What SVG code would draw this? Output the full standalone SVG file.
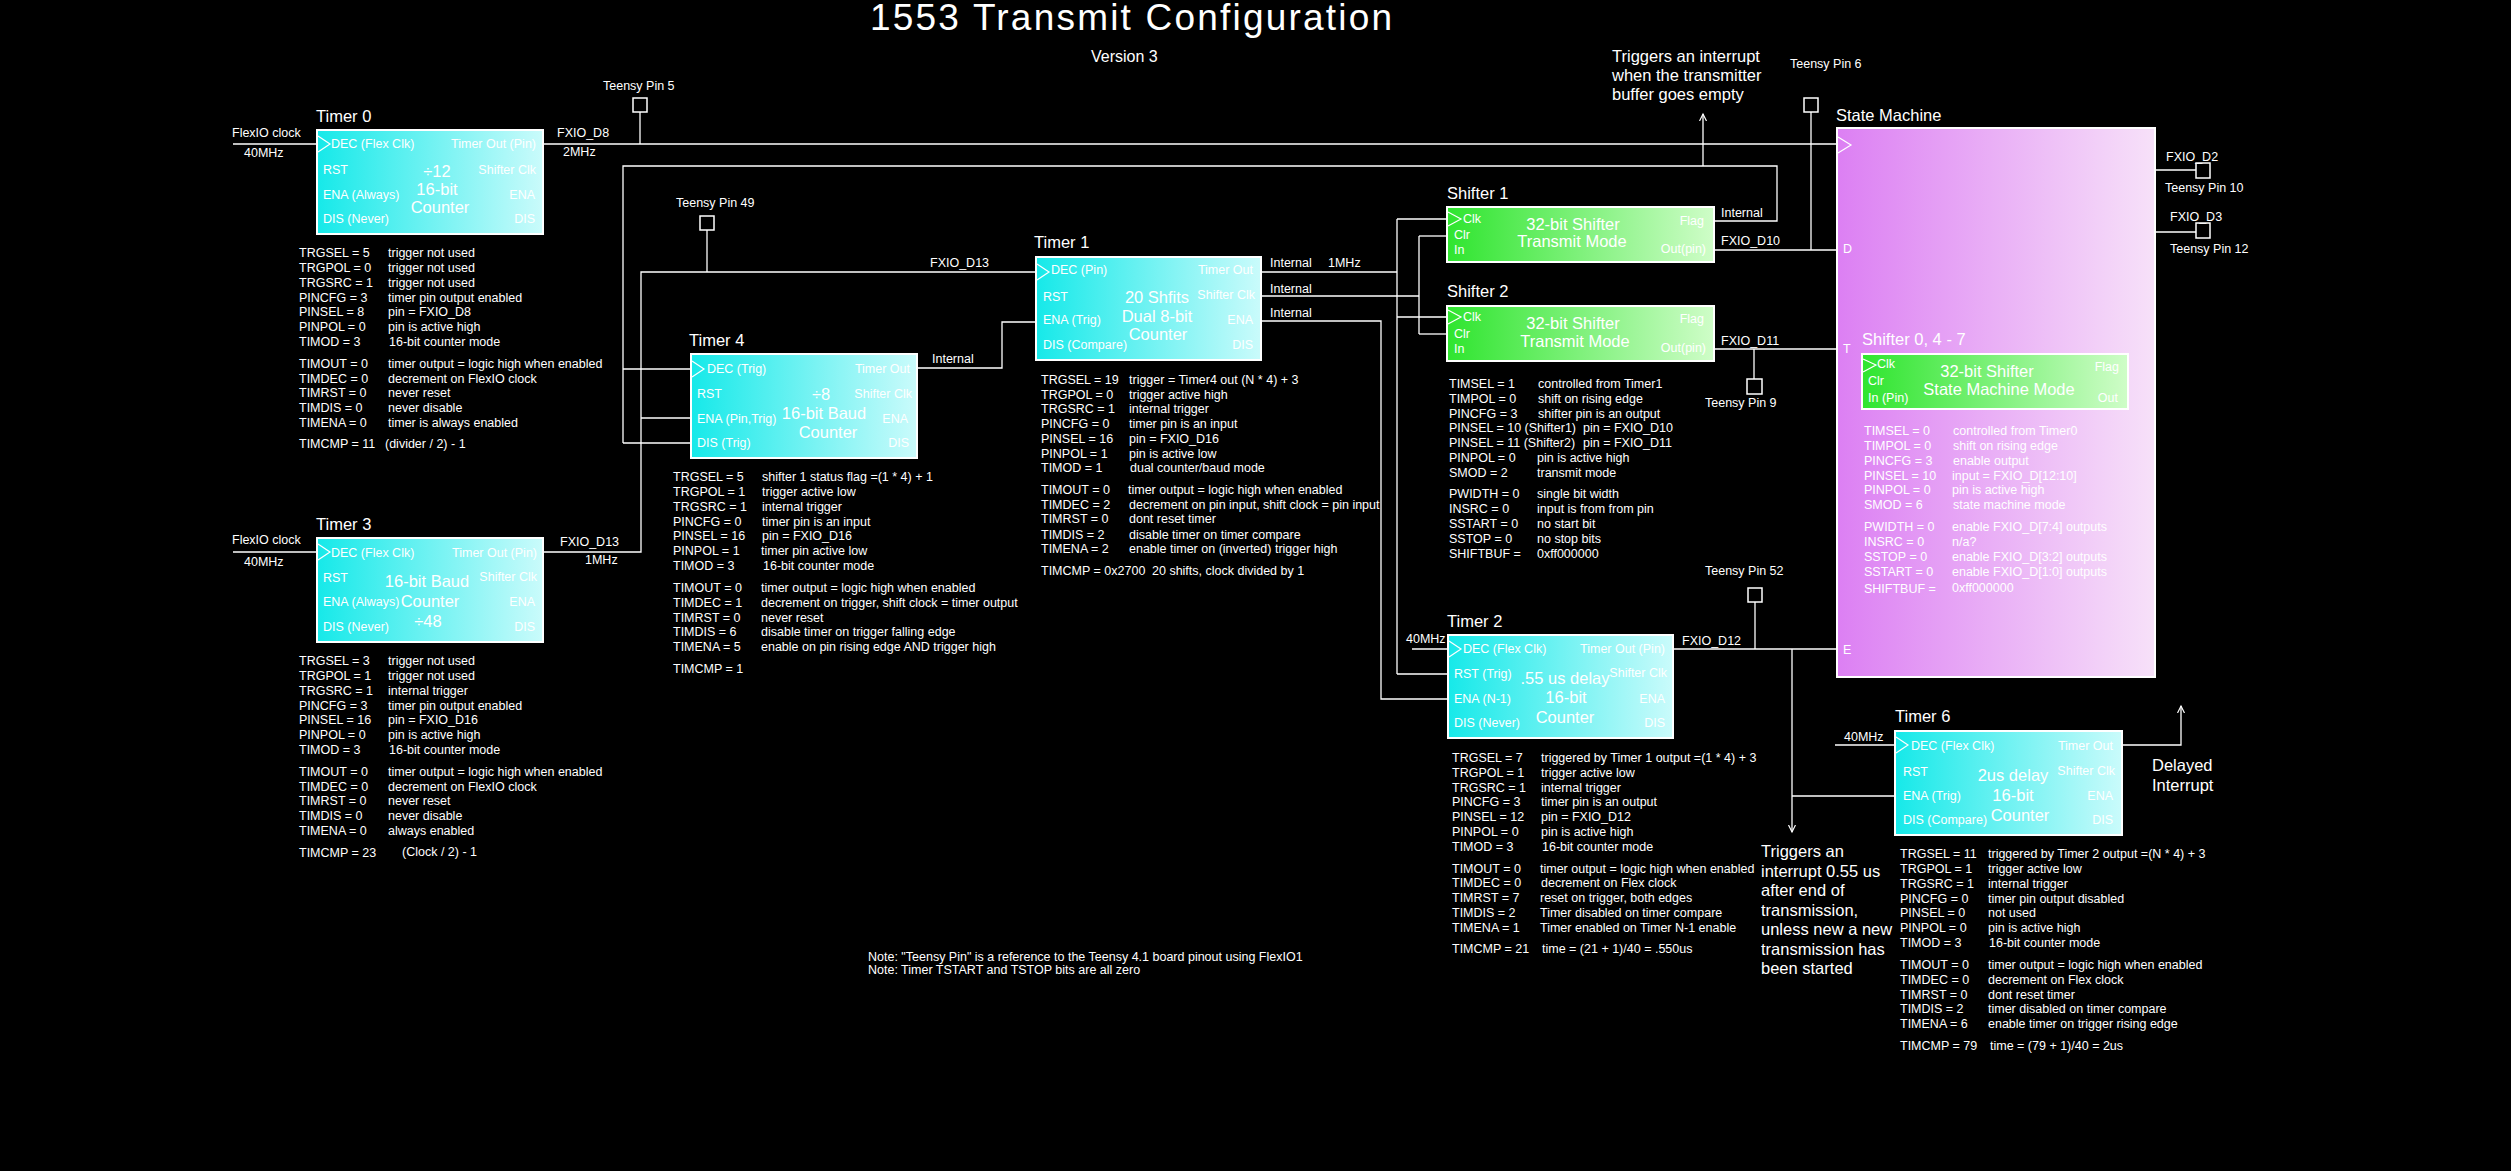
<svg xmlns="http://www.w3.org/2000/svg" width="2511" height="1171" viewBox="0 0 2511 1171">
<defs>
<linearGradient id="cy" x1="0" y1="0" x2="1" y2="0"><stop offset="0" stop-color="#16e9e9"/><stop offset="1" stop-color="#cafbfb"/></linearGradient>
<linearGradient id="gr" x1="0" y1="0" x2="1" y2="0"><stop offset="0" stop-color="#2fe52f"/><stop offset="1" stop-color="#cffdc8"/></linearGradient>
<linearGradient id="pk" x1="0" y1="0" x2="1" y2="0"><stop offset="0" stop-color="#dc7ff3"/><stop offset="1" stop-color="#f7e1f9"/></linearGradient>
<marker id="ah" markerWidth="9" markerHeight="9" refX="7" refY="4" orient="auto" markerUnits="userSpaceOnUse"><path d="M0,0.5 L7,4 L0,7.5" fill="none" stroke="#fff" stroke-width="1.2"/></marker>
<style>
text{font-family:"Liberation Sans",Arial,sans-serif;fill:#fff;font-size:12.5px}
.t{font-size:16.5px}
.c{font-size:16.5px;text-anchor:middle}
.r{text-anchor:end}
.w{stroke:#fff;stroke-width:1.3;fill:none}
.tb{fill:url(#cy);stroke:#fff;stroke-width:2}
.sb{fill:url(#gr);stroke:#fff;stroke-width:2}
.pb{fill:url(#pk);stroke:#fff;stroke-width:2}
.pin{fill:none;stroke:#fff;stroke-width:1.5}
.tri{fill:none;stroke:#fff;stroke-width:1.2}
</style>
</defs>
<rect x="0" y="0" width="2511" height="1171" fill="#000"/>

<text x="870" y="30" style="font-size:37px;letter-spacing:2.2px">1553 Transmit Configuration</text>
<text x="1091" y="62" style="font-size:16px">Version 3</text>
<text class="t" x="1612" y="62">Triggers an interrupt</text>
<text class="t" x="1612" y="81">when the transmitter</text>
<text class="t" x="1612" y="100">buffer goes empty</text>

<!-- connectors -->
<g id="connectors" class="w">
<path d="M233,144 H317"/>
<path d="M543,144 H1838"/>
<path d="M640,112 V144"/>
<path d="M233,552 H317"/>
<path d="M1714,221 H1777 V166 H623 V443"/>
<path d="M623,369 H691"/>
<path d="M623,443 H691"/>
<path d="M1703,166 V114" marker-end="url(#ah)"/>
<path d="M543,552 H641 V272 H1036"/>
<path d="M641,418 H691"/>
<path d="M707,230 V272"/>
<path d="M917,368 H1002 V322 H1036"/>
<path d="M1261,272 H1397"/>
<path d="M1397,219 V674"/>
<path d="M1397,219 H1447"/>
<path d="M1397,317 H1447"/>
<path d="M1397,674 H1448"/>
<path d="M1261,296 H1419"/>
<path d="M1419,236 V334"/>
<path d="M1419,236 H1447"/>
<path d="M1419,334 H1447"/>
<path d="M1261,321 H1381 V699 H1448"/>
<path d="M1714,250 H1838"/>
<path d="M1811,112 V250"/>
<path d="M1714,349 H1838"/>
<path d="M1754,349 V379"/>
<path d="M1412,649 H1448"/>
<path d="M1673,649 H1838"/>
<path d="M1755,602 V649"/>
<path d="M1792,649 V832" marker-end="url(#ah)"/>
<path d="M1792,796 H1895"/>
<path d="M1835,745 H1895"/>
<path d="M2122,745 H2181 V706" marker-end="url(#ah)"/>
<path d="M2155,170 H2196"/>
<path d="M2155,232 H2196"/>
</g>

<!-- pins -->
<g id="pin5"><rect class="pin" x="633" y="98" width="14" height="14"/><text x="603" y="90">Teensy Pin 5</text></g>
<g id="pin49"><rect class="pin" x="700" y="216" width="14" height="14"/><text x="676" y="207">Teensy Pin 49</text></g>
<g id="pin6"><rect class="pin" x="1804" y="98" width="14" height="14"/><text x="1790" y="68">Teensy Pin 6</text></g>
<g id="pin9"><rect class="pin" x="1747" y="379" width="15" height="15"/><text x="1705" y="407">Teensy Pin 9</text></g>
<g id="pin52"><rect class="pin" x="1748" y="588" width="14" height="14"/><text x="1705" y="575">Teensy Pin 52</text></g>
<g id="pin10"><rect class="pin" x="2196" y="163" width="14" height="15"/><text x="2166" y="161">FXIO_D2</text><text x="2165" y="192">Teensy Pin 10</text></g>
<g id="pin12"><rect class="pin" x="2196" y="223" width="14" height="15"/><text x="2170" y="221">FXIO_D3</text><text x="2170" y="253">Teensy Pin 12</text></g>

<!-- connector labels -->
<g id="labels">
<text x="232" y="137">FlexIO clock</text>
<text x="244" y="157">40MHz</text>
<text x="557" y="137">FXIO_D8</text>
<text x="563" y="156">2MHz</text>
<text x="232" y="544">FlexIO clock</text>
<text x="244" y="566">40MHz</text>
<text x="560" y="546">FXIO_D13</text>
<text x="585" y="564">1MHz</text>
<text x="930" y="267">FXIO_D13</text>
<text x="932" y="363">Internal</text>
<text x="1270" y="267">Internal</text>
<text x="1328" y="267">1MHz</text>
<text x="1270" y="293">Internal</text>
<text x="1270" y="317">Internal</text>
<text x="1721" y="217">Internal</text>
<text x="1721" y="245">FXIO_D10</text>
<text x="1721" y="345">FXIO_D11</text>
<text x="1406" y="643">40MHz</text>
<text x="1682" y="645">FXIO_D12</text>
<text x="1844" y="741">40MHz</text>
<text class="t" x="2152" y="771">Delayed</text>
<text class="t" x="2152" y="791">Interrupt</text>
<text class="t" x="1761" y="857">Triggers an</text>
<text class="t" x="1761" y="877">interrupt 0.55 us</text>
<text class="t" x="1761" y="896">after end of</text>
<text class="t" x="1761" y="916">transmission,</text>
<text class="t" x="1761" y="935">unless new a new</text>
<text class="t" x="1761" y="955">transmission has</text>
<text class="t" x="1761" y="974">been started</text>
<text x="868" y="961">Note: "Teensy Pin" is a reference to the Teensy 4.1 board pinout using FlexIO1</text>
<text x="868" y="974">Note: Timer TSTART and TSTOP bits are all zero</text>
</g>

<!-- Timer 0 -->
<g id="timer0">
<text class="t" x="316" y="122">Timer 0</text>
<rect class="tb" x="317" y="130" width="226" height="104"/>
<polyline class="tri" points="318,136 330,144 318,152"/>
<text x="331" y="148">DEC (Flex Clk)</text><text x="323" y="174">RST</text><text x="323" y="199">ENA (Always)</text><text x="323" y="223">DIS (Never)</text>
<text class="r" x="536" y="148">Timer Out (Pin)</text><text class="r" x="536" y="174">Shifter Clk</text><text class="r" x="535" y="199">ENA</text><text class="r" x="535" y="223">DIS</text>
<text class="c" x="437" y="177">÷12</text><text class="c" x="437" y="195">16-bit</text><text class="c" x="440" y="213">Counter</text>
<g transform="translate(299,257)">
<text><tspan x="0" y="0">TRGSEL = 5</tspan><tspan x="0" y="15">TRGPOL = 0</tspan><tspan x="0" y="30">TRGSRC = 1</tspan><tspan x="0" y="45">PINCFG = 3</tspan><tspan x="0" y="59">PINSEL = 8</tspan><tspan x="0" y="74">PINPOL = 0</tspan><tspan x="0" y="89">TIMOD = 3</tspan><tspan x="0" y="111">TIMOUT = 0</tspan><tspan x="0" y="126">TIMDEC = 0</tspan><tspan x="0" y="140">TIMRST = 0</tspan><tspan x="0" y="155">TIMDIS = 0</tspan><tspan x="0" y="170">TIMENA = 0</tspan><tspan x="0" y="191">TIMCMP = 11</tspan></text>
<text><tspan x="89" y="0">trigger not used</tspan><tspan x="89" y="15">trigger not used</tspan><tspan x="89" y="30">trigger not used</tspan><tspan x="89" y="45">timer pin output enabled</tspan><tspan x="89" y="59">pin = FXIO_D8</tspan><tspan x="89" y="74">pin is active high</tspan><tspan x="90" y="89">16-bit counter mode</tspan><tspan x="89" y="111">timer output = logic high when enabled</tspan><tspan x="89" y="126">decrement on FlexIO clock</tspan><tspan x="89" y="140">never reset</tspan><tspan x="89" y="155">never disable</tspan><tspan x="89" y="170">timer is always enabled</tspan><tspan x="86" y="191">(divider / 2) - 1</tspan></text>
</g>
</g>

<!-- Timer 3 -->
<g id="timer3">
<text class="t" x="316" y="530">Timer 3</text>
<rect class="tb" x="317" y="538" width="226" height="104"/>
<polyline class="tri" points="318,544 330,552 318,560"/>
<text x="331" y="557">DEC (Flex Clk)</text><text x="323" y="582">RST</text><text x="323" y="606">ENA (Always)</text><text x="323" y="631">DIS (Never)</text>
<text class="r" x="537" y="557">Timer Out (Pin)</text><text class="r" x="537" y="581">Shifter Clk</text><text class="r" x="535" y="606">ENA</text><text class="r" x="535" y="631">DIS</text>
<text class="c" x="427" y="587">16-bit Baud</text><text class="c" x="430" y="607">Counter</text><text class="c" x="428" y="627">÷48</text>
<g transform="translate(299,665)">
<text><tspan x="0" y="0">TRGSEL = 3</tspan><tspan x="0" y="15">TRGPOL = 1</tspan><tspan x="0" y="30">TRGSRC = 1</tspan><tspan x="0" y="45">PINCFG = 3</tspan><tspan x="0" y="59">PINSEL = 16</tspan><tspan x="0" y="74">PINPOL = 0</tspan><tspan x="0" y="89">TIMOD = 3</tspan><tspan x="0" y="111">TIMOUT = 0</tspan><tspan x="0" y="126">TIMDEC = 0</tspan><tspan x="0" y="140">TIMRST = 0</tspan><tspan x="0" y="155">TIMDIS = 0</tspan><tspan x="0" y="170">TIMENA = 0</tspan><tspan x="0" y="192">TIMCMP = 23</tspan></text>
<text><tspan x="89" y="0">trigger not used</tspan><tspan x="89" y="15">trigger not used</tspan><tspan x="89" y="30">internal trigger</tspan><tspan x="89" y="45">timer pin output enabled</tspan><tspan x="89" y="59">pin = FXIO_D16</tspan><tspan x="89" y="74">pin is active high</tspan><tspan x="90" y="89">16-bit counter mode</tspan><tspan x="89" y="111">timer output = logic high when enabled</tspan><tspan x="89" y="126">decrement on FlexIO clock</tspan><tspan x="89" y="140">never reset</tspan><tspan x="89" y="155">never disable</tspan><tspan x="89" y="170">always enabled</tspan><tspan x="103" y="191">(Clock / 2) - 1</tspan></text>
</g>
</g>

<!-- Timer 4 -->
<g id="timer4">
<text class="t" x="689" y="346">Timer 4</text>
<rect class="tb" x="691" y="354" width="226" height="104"/>
<polyline class="tri" points="692,361 704,369 692,377"/>
<text x="707" y="373">DEC (Trig)</text><text x="697" y="398">RST</text><text x="697" y="423">ENA (Pin,Trig)</text><text x="697" y="447">DIS (Trig)</text>
<text class="r" x="910" y="373">Timer Out</text><text class="r" x="912" y="398">Shifter Clk</text><text class="r" x="908" y="423">ENA</text><text class="r" x="909" y="447">DIS</text>
<text class="c" x="821" y="400">÷8</text><text class="c" x="824" y="419">16-bit Baud</text><text class="c" x="828" y="438">Counter</text>
<g transform="translate(673,481)">
<text><tspan x="0" y="0">TRGSEL = 5</tspan><tspan x="0" y="15">TRGPOL = 1</tspan><tspan x="0" y="30">TRGSRC = 1</tspan><tspan x="0" y="45">PINCFG = 0</tspan><tspan x="0" y="59">PINSEL = 16</tspan><tspan x="0" y="74">PINPOL = 1</tspan><tspan x="0" y="89">TIMOD = 3</tspan><tspan x="0" y="111">TIMOUT = 0</tspan><tspan x="0" y="126">TIMDEC = 1</tspan><tspan x="0" y="141">TIMRST = 0</tspan><tspan x="0" y="155">TIMDIS = 6</tspan><tspan x="0" y="170">TIMENA = 5</tspan><tspan x="0" y="192">TIMCMP = 1</tspan></text>
<text><tspan x="89" y="0">shifter 1 status flag =(1 * 4) + 1</tspan><tspan x="89" y="15">trigger active low</tspan><tspan x="89" y="30">internal trigger</tspan><tspan x="89" y="45">timer pin is an input</tspan><tspan x="89" y="59">pin = FXIO_D16</tspan><tspan x="88" y="74">timer pin active low</tspan><tspan x="90" y="89">16-bit counter mode</tspan><tspan x="88" y="111">timer output = logic high when enabled</tspan><tspan x="88" y="126">decrement on trigger, shift clock = timer output</tspan><tspan x="88" y="141">never reset</tspan><tspan x="88" y="155">disable timer on trigger falling edge</tspan><tspan x="88" y="170">enable on pin rising edge AND trigger high</tspan></text>
</g>
</g>

<!-- Timer 1 -->
<g id="timer1">
<text class="t" x="1034" y="248">Timer 1</text>
<rect class="tb" x="1036" y="257" width="225" height="103"/>
<polyline class="tri" points="1037,264 1049,272 1037,280"/>
<text x="1051" y="274">DEC (Pin)</text><text x="1043" y="301">RST</text><text x="1043" y="324">ENA (Trig)</text><text x="1043" y="349">DIS (Compare)</text>
<text class="r" x="1253" y="274">Timer Out</text><text class="r" x="1255" y="299">Shifter Clk</text><text class="r" x="1253" y="324">ENA</text><text class="r" x="1253" y="349">DIS</text>
<text class="c" x="1157" y="303">20 Shfits</text><text class="c" x="1157" y="322">Dual 8-bit</text><text class="c" x="1158" y="340">Counter</text>
<g transform="translate(1041,384)">
<text><tspan x="0" y="0">TRGSEL = 19</tspan><tspan x="0" y="15">TRGPOL = 0</tspan><tspan x="0" y="29">TRGSRC = 1</tspan><tspan x="0" y="44">PINCFG = 0</tspan><tspan x="0" y="59">PINSEL = 16</tspan><tspan x="0" y="74">PINPOL = 1</tspan><tspan x="0" y="88">TIMOD = 1</tspan><tspan x="0" y="110">TIMOUT = 0</tspan><tspan x="0" y="125">TIMDEC = 2</tspan><tspan x="0" y="139">TIMRST = 0</tspan><tspan x="0" y="155">TIMDIS = 2</tspan><tspan x="0" y="169">TIMENA = 2</tspan><tspan x="0" y="191">TIMCMP = 0x2700</tspan></text>
<text><tspan x="88" y="0">trigger = Timer4 out (N * 4) + 3</tspan><tspan x="88" y="15">trigger active high</tspan><tspan x="88" y="29">internal trigger</tspan><tspan x="88" y="44">timer pin is an input</tspan><tspan x="88" y="59">pin = FXIO_D16</tspan><tspan x="88" y="74">pin is active low</tspan><tspan x="89" y="88">dual counter/baud mode</tspan><tspan x="87" y="110">timer output = logic high when enabled</tspan><tspan x="88" y="125">decrement on pin input, shift clock = pin input</tspan><tspan x="88" y="139">dont reset timer</tspan><tspan x="88" y="155">disable timer on timer compare</tspan><tspan x="88" y="169">enable timer on (inverted) trigger high</tspan><tspan x="111" y="191">20 shifts, clock divided by 1</tspan></text>
</g>
</g>

<!-- Shifter 1 -->
<g id="shifter1">
<text class="t" x="1447" y="199">Shifter 1</text>
<rect class="sb" x="1447" y="207" width="267" height="55"/>
<polyline class="tri" points="1448,212 1461,219 1448,226"/>
<text x="1463" y="223">Clk</text><text x="1454" y="239">Clr</text><text x="1454" y="254">In</text>
<text class="c" x="1573" y="230">32-bit Shifter</text><text class="c" x="1572" y="247">Transmit Mode</text>
<text class="r" x="1704" y="225">Flag</text><text class="r" x="1706" y="253">Out(pin)</text>
</g>

<!-- Shifter 2 -->
<g id="shifter2">
<text class="t" x="1447" y="297">Shifter 2</text>
<rect class="sb" x="1447" y="306" width="267" height="55"/>
<polyline class="tri" points="1448,310 1461,317 1448,324"/>
<text x="1463" y="321">Clk</text><text x="1454" y="338">Clr</text><text x="1454" y="353">In</text>
<text class="c" x="1573" y="329">32-bit Shifter</text><text class="c" x="1575" y="347">Transmit Mode</text>
<text class="r" x="1704" y="323">Flag</text><text class="r" x="1706" y="352">Out(pin)</text>
<g transform="translate(1449,388)">
<text><tspan x="0" y="0">TIMSEL = 1</tspan><tspan x="0" y="15">TIMPOL = 0</tspan><tspan x="0" y="30">PINCFG = 3</tspan><tspan x="0" y="44">PINSEL = 10 (Shifter1)</tspan><tspan x="0" y="59">PINSEL = 11 (Shifter2)</tspan><tspan x="0" y="74">PINPOL = 0</tspan><tspan x="0" y="89">SMOD = 2</tspan><tspan x="0" y="110">PWIDTH = 0</tspan><tspan x="0" y="125">INSRC = 0</tspan><tspan x="0" y="140">SSTART = 0</tspan><tspan x="0" y="155">SSTOP = 0</tspan><tspan x="0" y="170">SHIFTBUF =</tspan></text>
<text><tspan x="89" y="0">controlled from Timer1</tspan><tspan x="89" y="15">shift on rising edge</tspan><tspan x="89" y="30">shifter pin is an output</tspan><tspan x="134" y="44">pin = FXIO_D10</tspan><tspan x="134" y="59">pin = FXIO_D11</tspan><tspan x="88" y="74">pin is active high</tspan><tspan x="88" y="89">transmit mode</tspan><tspan x="88" y="110">single bit width</tspan><tspan x="88" y="125">input is from from pin</tspan><tspan x="88" y="140">no start bit</tspan><tspan x="88" y="155">no stop bits</tspan><tspan x="88" y="170">0xff000000</tspan></text>
</g>
</g>

<!-- Timer 2 -->
<g id="timer2">
<text class="t" x="1447" y="627">Timer 2</text>
<rect class="tb" x="1448" y="635" width="225" height="103"/>
<polyline class="tri" points="1449,641 1461,649 1449,657"/>
<text x="1463" y="653">DEC (Flex Clk)</text><text x="1454" y="678">RST (Trig)</text><text x="1454" y="703">ENA (N-1)</text><text x="1454" y="727">DIS (Never)</text>
<text class="r" x="1665" y="653">Timer Out (Pin)</text><text class="r" x="1667" y="677">Shifter Clk</text><text class="r" x="1665" y="703">ENA</text><text class="r" x="1665" y="727">DIS</text>
<text class="c" x="1565" y="684">.55 us delay</text><text class="c" x="1566" y="703">16-bit</text><text class="c" x="1565" y="723">Counter</text>
<g transform="translate(1452,762)">
<text><tspan x="0" y="0">TRGSEL = 7</tspan><tspan x="0" y="15">TRGPOL = 1</tspan><tspan x="0" y="30">TRGSRC = 1</tspan><tspan x="0" y="44">PINCFG = 3</tspan><tspan x="0" y="59">PINSEL = 12</tspan><tspan x="0" y="74">PINPOL = 0</tspan><tspan x="0" y="89">TIMOD = 3</tspan><tspan x="0" y="111">TIMOUT = 0</tspan><tspan x="0" y="125">TIMDEC = 0</tspan><tspan x="0" y="140">TIMRST = 7</tspan><tspan x="0" y="155">TIMDIS = 2</tspan><tspan x="0" y="170">TIMENA = 1</tspan><tspan x="0" y="191">TIMCMP = 21</tspan></text>
<text><tspan x="89" y="0">triggered by Timer 1 output =(1 * 4) + 3</tspan><tspan x="89" y="15">trigger active low</tspan><tspan x="89" y="30">internal trigger</tspan><tspan x="89" y="44">timer pin is an output</tspan><tspan x="89" y="59">pin = FXIO_D12</tspan><tspan x="89" y="74">pin is active high</tspan><tspan x="90" y="89">16-bit counter mode</tspan><tspan x="88" y="111">timer output = logic high when enabled</tspan><tspan x="89" y="125">decrement on Flex clock</tspan><tspan x="88" y="140">reset on trigger, both edges</tspan><tspan x="88" y="155">Timer disabled on timer compare</tspan><tspan x="88" y="170">Timer enabled on Timer N-1 enable</tspan><tspan x="90" y="191">time = (21 + 1)/40  = .550us</tspan></text>
</g>
</g>

<!-- State machine -->
<g id="statemachine">
<text class="t" x="1836" y="121">State Machine</text>
<rect class="pb" x="1837" y="128" width="318" height="549"/>
<polyline class="tri" points="1838,137 1851,145 1838,153"/>
<text x="1843" y="253">D</text><text x="1843" y="353">T</text><text x="1843" y="654">E</text>
<text class="t" x="1862" y="345">Shifter 0, 4 - 7</text>
<rect class="sb" x="1862" y="354" width="266" height="55"/>
<polyline class="tri" points="1863,359 1876,365 1863,372"/>
<text x="1877" y="368">Clk</text><text x="1868" y="385">Clr</text><text x="1868" y="402">In (Pin)</text>
<text class="c" x="1987" y="377">32-bit Shifter</text><text class="c" x="1999" y="395">State Machine Mode</text>
<text class="r" x="2119" y="371">Flag</text><text class="r" x="2118" y="402">Out</text>
<g transform="translate(1864,435)">
<text><tspan x="0" y="0">TIMSEL = 0</tspan><tspan x="0" y="15">TIMPOL = 0</tspan><tspan x="0" y="30">PINCFG = 3</tspan><tspan x="0" y="45">PINSEL = 10</tspan><tspan x="0" y="59">PINPOL = 0</tspan><tspan x="0" y="74">SMOD = 6</tspan><tspan x="0" y="96">PWIDTH = 0</tspan><tspan x="0" y="111">INSRC = 0</tspan><tspan x="0" y="126">SSTOP = 0</tspan><tspan x="0" y="141">SSTART = 0</tspan><tspan x="0" y="158">SHIFTBUF =</tspan></text>
<text><tspan x="89" y="0">controlled from Timer0</tspan><tspan x="89" y="15">shift on rising edge</tspan><tspan x="89" y="30">enable output</tspan><tspan x="88" y="45">input = FXIO_D[12:10]</tspan><tspan x="88" y="59">pin is active high</tspan><tspan x="89" y="74">state machine mode</tspan><tspan x="88" y="96">enable FXIO_D[7:4] outputs</tspan><tspan x="88" y="111">n/a?</tspan><tspan x="88" y="126">enable FXIO_D[3:2] outputs</tspan><tspan x="88" y="141">enable FXIO_D[1:0] outputs</tspan><tspan x="88" y="157">0xff000000</tspan></text>
</g>
</g>

<!-- Timer 6 -->
<g id="timer6">
<text class="t" x="1895" y="722">Timer 6</text>
<rect class="tb" x="1895" y="731" width="227" height="104"/>
<polyline class="tri" points="1896,737 1908,745 1896,753"/>
<text x="1911" y="750">DEC (Flex Clk)</text><text x="1903" y="776">RST</text><text x="1903" y="800">ENA (Trig)</text><text x="1903" y="824">DIS (Compare)</text>
<text class="r" x="2113" y="750">Timer Out</text><text class="r" x="2115" y="775">Shifter Clk</text><text class="r" x="2113" y="800">ENA</text><text class="r" x="2113" y="824">DIS</text>
<text class="c" x="2013" y="781">2us delay</text><text class="c" x="2013" y="801">16-bit</text><text class="c" x="2020" y="821">Counter</text>
<g transform="translate(1900,858)">
<text><tspan x="0" y="0">TRGSEL = 11</tspan><tspan x="0" y="15">TRGPOL = 1</tspan><tspan x="0" y="30">TRGSRC = 1</tspan><tspan x="0" y="45">PINCFG = 0</tspan><tspan x="0" y="59">PINSEL =  0</tspan><tspan x="0" y="74">PINPOL = 0</tspan><tspan x="0" y="89">TIMOD = 3</tspan><tspan x="0" y="111">TIMOUT = 0</tspan><tspan x="0" y="126">TIMDEC = 0</tspan><tspan x="0" y="141">TIMRST = 0</tspan><tspan x="0" y="155">TIMDIS = 2</tspan><tspan x="0" y="170">TIMENA = 6</tspan><tspan x="0" y="192">TIMCMP = 79</tspan></text>
<text><tspan x="88" y="0">triggered by Timer 2 output =(N * 4) + 3</tspan><tspan x="88" y="15">trigger active low</tspan><tspan x="88" y="30">internal trigger</tspan><tspan x="88" y="45">timer pin output disabled</tspan><tspan x="88" y="59">not used</tspan><tspan x="88" y="74">pin is active high</tspan><tspan x="89" y="89">16-bit counter mode</tspan><tspan x="88" y="111">timer output = logic high when enabled</tspan><tspan x="88" y="126">decrement on Flex clock</tspan><tspan x="88" y="141">dont reset timer</tspan><tspan x="88" y="155">timer disabled on timer compare</tspan><tspan x="88" y="170">enable timer on trigger rising edge</tspan><tspan x="90" y="192">time = (79 + 1)/40  = 2us</tspan></text>
</g>
</g>
</svg>
